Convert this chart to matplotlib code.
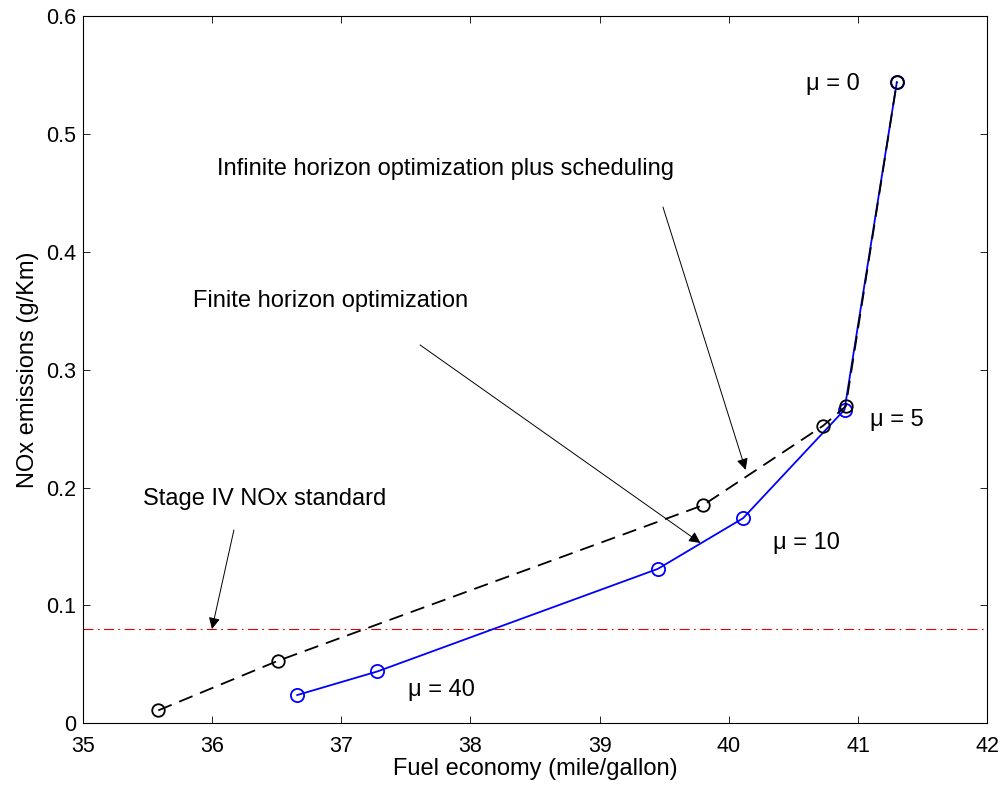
import matplotlib
matplotlib.use("Agg")
import matplotlib.pyplot as plt

plt.rcParams['font.family'] = ['Liberation Sans', 'DejaVu Sans']

# Data
finite_x = [36.66, 37.28, 39.45, 40.11, 40.895, 41.30]
finite_y = [0.024, 0.044, 0.131, 0.174, 0.266, 0.544]
infinite_x = [35.585, 36.51, 39.80, 40.73, 40.905, 41.30]
infinite_y = [0.011, 0.053, 0.185, 0.2525, 0.269, 0.544]
standard_y = 0.08

x_ticks = [35, 36, 37, 38, 39, 40, 41, 42]
y_ticks = [0, 0.1, 0.2, 0.3, 0.4, 0.5, 0.6]
y_ticklabels = ['0', '0.1', '0.2', '0.3', '0.4', '0.5', '0.6']

FS = 17

fig = plt.figure(figsize=(10.05, 7.9), dpi=100)
ax = fig.add_axes([0.0823, 0.0844, 0.9001, 0.8953])

ax.axhline(standard_y, color='#e00000', lw=0.8, ls=(0, (9, 4, 1.5, 4)))
ax.plot(finite_x, finite_y, color='#0000ff', lw=1.3, marker='o', ms=9.5,
        mfc='none', mec='#0000ff', mew=1.3)
ax.plot(infinite_x, infinite_y, color='black', lw=1.3, ls=(0, (8, 4.5)),
        marker='o', ms=9, mfc='none', mec='black', mew=1.3)

ax.set_xlim(35, 42)
ax.set_ylim(0, 0.6)
ax.set_xticks(x_ticks)
ax.set_yticks(y_ticks)
ax.set_yticklabels(y_ticklabels)
ax.tick_params(direction='in', top=True, right=True, length=5, width=0.6,
               labelsize=15.5)
ax.tick_params(axis='x', pad=9)
ax.tick_params(axis='y', pad=5)
for s in ax.spines.values():
    s.set_linewidth(0.8)

ax.set_xlabel('Fuel economy (mile/gallon)', fontsize=FS, labelpad=1)
ax.set_ylabel('NOx emissions (g/Km)', fontsize=FS, labelpad=5)

arrow = dict(arrowstyle='-|>', color='black', lw=0.7, mutation_scale=17,
             shrinkA=0, shrinkB=0)
ax.text(35.47, 0.19, 'Stage IV NOx standard', fontsize=FS, va='center', ha='left')
ax.annotate('', xy=(36.0, 0.08), xytext=(36.17, 0.164), arrowprops=arrow)

ax.text(35.85, 0.358, 'Finite horizon optimization', fontsize=FS, va='center', ha='left')
ax.annotate('', xy=(39.78, 0.153), xytext=(37.61, 0.321), arrowprops=arrow)

ax.text(36.04, 0.47, 'Infinite horizon optimization plus scheduling', fontsize=FS,
        va='center', ha='left')
ax.annotate('', xy=(40.13, 0.215), xytext=(39.49, 0.438), arrowprops=arrow)

ax.text(40.6, 0.542, 'μ = 0', fontsize=FS, va='center', ha='left')
ax.text(41.09, 0.257, 'μ = 5', fontsize=FS, va='center', ha='left')
ax.text(40.34, 0.153, 'μ = 10', fontsize=FS, va='center', ha='left')
ax.text(37.52, 0.028, 'μ = 40', fontsize=FS, va='center', ha='left')

fig.savefig('out.png', dpi=100, facecolor='white')
